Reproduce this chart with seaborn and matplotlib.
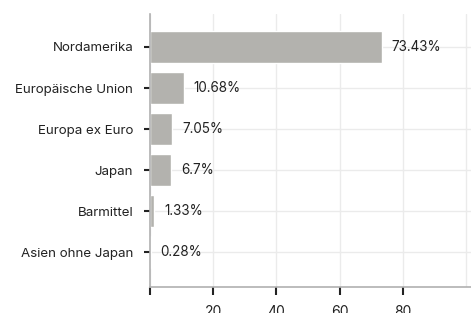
import matplotlib
matplotlib.use("Agg")
import pandas as pd
import seaborn as sns
import matplotlib.pyplot as plt

# ---- data ----
regions = ["Nordamerika", "Europäische Union", "Europa ex Euro", "Japan",
           "Barmittel", "Asien ohne Japan"]
shares = [73.43, 10.68, 7.05, 6.7, 1.33, 0.28]
share_labels = ["73.43%", "10.68%", "7.05%", "6.7%", "1.33%", "0.28%"]
x_ticks = [0, 20, 40, 60, 80, 100]
x_ticklabels = ["", "20", "40", "60", "80", ""]

df = pd.DataFrame({"region": regions, "share": shares})

sns.set_style("white")
plt.rcParams["font.family"] = ["Inter", "DejaVu Sans"]

fig = plt.figure(figsize=(4.71, 3.13), dpi=100)
ax = fig.add_axes([0.3185, 0.082, 0.6815, 0.873])

sns.barplot(data=df, x="share", y="region", color="#b3b2ae", saturation=1,
            width=0.78, ax=ax)
ax.bar_label(ax.containers[0], labels=share_labels, padding=7,
             fontsize=9.7, color="#222222")

ax.set_xlim(0, 101.6)
ax.set_ylim(5.85, -0.8)
ax.set_xticks(x_ticks)
ax.set_xticklabels(x_ticklabels)
ax.set_xlabel("")
ax.set_ylabel("")
ax.grid(True, color="#ebebeb", linewidth=1)
ax.set_axisbelow(True)

for side in ["top", "right"]:
    ax.spines[side].set_visible(False)
for side in ["left", "bottom"]:
    ax.spines[side].set_color("#b0b0b0")
    ax.spines[side].set_linewidth(1.2)

ax.tick_params(axis="y", left=True, length=4, width=1.5, color="#222222",
               labelsize=9.6, labelcolor="#222222", pad=8)
ax.tick_params(axis="x", bottom=True, length=6, width=1.5, color="#222222",
               labelsize=10, labelcolor="#222222", pad=7)
# the last gridline has no tick mark in the reference
ax.xaxis.get_major_ticks()[-1].tick1line.set_visible(False)

fig.savefig("out.png", dpi=100)
